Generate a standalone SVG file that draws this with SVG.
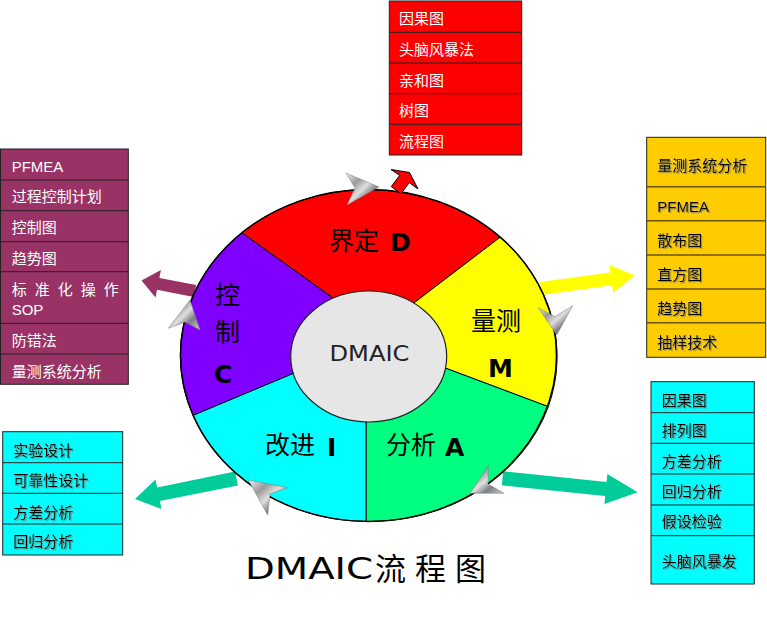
<svg xmlns="http://www.w3.org/2000/svg" width="767" height="621" viewBox="0 0 767 621">
<style>
.t{font-family:"Liberation Sans","Noto Sans CJK SC",sans-serif;font-size:15px}
.w{fill:#fff}
.k{fill:#000}
.sh{filter:url(#ds)}
.seg{stroke:#000;stroke-width:1}
.box{stroke:#222;stroke-width:1}
.ln{stroke:#222;stroke-width:1}
.lny{stroke:#6b5200;stroke-width:1.5}
.cj{font-family:"Noto Sans CJK SC",sans-serif;font-size:25px;fill:#000}
.bd{font-family:"DejaVu Sans",sans-serif;font-weight:bold;font-size:25px;fill:#000}
.chev{fill:url(#silver);stroke:#777;stroke-width:0.5}
</style>
<defs>
<filter id="ds" x="-10%" y="-30%" width="130%" height="180%">
<feDropShadow dx="1.2" dy="1.2" stdDeviation="0.4" flood-color="#777" flood-opacity="0.8"/>
</filter>
<linearGradient id="silver" x1="0" y1="0" x2="1" y2="1">
<stop offset="0" stop-color="#f4f4f4"/>
<stop offset="0.3" stop-color="#9a9a9a"/>
<stop offset="0.5" stop-color="#e0e0e0"/>
<stop offset="0.7" stop-color="#7c7c86"/>
<stop offset="1" stop-color="#d0d0d0"/>
</linearGradient>
</defs>
<rect width="767" height="621" fill="#fff"/>

<g id="connectors">
<polygon points="196.2,285.1 159.4,277.9 160.9,270.1 141.5,280.5 155.5,297.5 157,289.7 193.8,296.9" fill="#993366"/>
<polygon points="541.9,294.9 540.1,282.1 610.3,272.4 609.3,264.9 635,275.5 613.1,292.7 612.1,285.2" fill="#ffff00"/>
<polygon points="235.1,471.6 157.1,487.4 155.5,479.5 135,499 161.5,509 159.9,501.1 237.9,485.4" fill="#00cc99"/>
<polygon points="503.2,471.3 606.6,482 607.4,474.1 637.7,492.3 604.4,503.9 605.2,496 501.8,485.3" fill="#00cc99"/>
</g>

<g id="cycle">
<g id="seg-D"><path class="seg" fill="#ff0000" d="M241.7,232.7 A188,166 0 0 1 500,237.3 L388,322.7 L353.3,312.5 Z"/></g>
<g id="seg-M"><path class="seg" fill="#ffff00" d="M500,237.3 A188,166 0 0 1 548.3,406.7 L420.4,358.7 L388,322.7 Z"/></g>
<g id="seg-A"><path class="seg" fill="#00ff80" d="M548.3,406.7 A188,166 0 0 1 366,521.5 L366,400 L420.4,358.7 Z"/></g>
<g id="seg-I"><path class="seg" fill="#00ffff" d="M366,521.5 A188,166 0 0 1 193,415.3 L318.4,362.8 L366,400 Z"/></g>
<g id="seg-C"><path class="seg" fill="#8000ff" d="M193,415.3 A188,166 0 0 1 241.7,232.7 L353.3,312.5 L318.4,362.8 Z"/></g>
<ellipse cx="368.5" cy="355.5" rx="188" ry="166" fill="none" stroke="#000" stroke-width="1.5"/>
<g id="center">
<ellipse cx="368.7" cy="356.5" rx="78" ry="65.5" fill="#e6e6e6" stroke="#222" stroke-width="1.2"/>
<text x="329.5" y="361" font-family="DejaVu Sans,sans-serif" font-size="22" fill="#222" textLength="80" lengthAdjust="spacingAndGlyphs">DMAIC</text>
</g>
<text class="cj" x="329" y="250">界定</text><text class="bd" x="390" y="251">D</text>
<text class="cj" x="471" y="330">量测</text><text class="bd" x="488" y="377">M</text>
<text class="cj" x="215" y="304" font-size="24">控</text><text class="cj" x="215" y="341" font-size="24">制</text><text class="bd" x="214" y="383">C</text>
<text class="cj" x="265" y="454">改进</text><text class="bd" x="327" y="456">I</text>
<text class="cj" x="386" y="454">分析</text><text class="bd" x="445" y="456">A</text>
</g>

<g id="flow-arrows">
<polygon points="409.5,172.5 418,189 409.3,182.6 400.9,193.8 391.3,186.6 399.7,175.4 391,169.5" fill="#ff0000" stroke="#000" stroke-width="1"/>
<polygon class="chev" points="346,173 379,187 347,205 355,188"/>
<polygon class="chev" points="538.3,307.7 556.7,335 572.7,305.7 555,316.7"/>
<polygon class="chev" points="488.3,465.7 470,493.3 504,493.3 488,484"/>
<polygon class="chev" points="287.7,487.7 248.3,480 267.7,515 270,494"/>
<polygon class="chev" points="168.3,328.3 190,300 200,330 185,322"/>
</g>

<g id="box-D">
<rect class="box" x="389.3" y="1" width="132.4" height="154" fill="#ff0000"/>
<path class="ln" d="M389.3,32.3H521.7M389.3,63H521.7M389.3,93.7H521.7M389.3,124.3H521.7"/>
<text class="t w" x="399" y="23.5">因果图</text>
<text class="t w" x="399" y="55">头脑风暴法</text>
<text class="t w" x="399" y="85.5">亲和图</text>
<text class="t w" x="399" y="115.5">树图</text>
<text class="t w" x="399" y="147">流程图</text>
</g>

<g id="box-C">
<rect class="box" x="0.5" y="149" width="127.8" height="235.3" fill="#993366"/>
<path class="ln" d="M0.5,180H128.3M0.5,210.7H128.3M0.5,241.7H128.3M0.5,271.7H128.3M0.5,323.3H128.3M0.5,354H128.3"/>
<text class="t w" x="11.7" y="172">PFMEA</text>
<text class="t w" x="11.7" y="202">过程控制计划</text>
<text class="t w" x="11.7" y="233">控制图</text>
<text class="t w" x="11.7" y="263.8">趋势图</text>
<text class="t w" x="11.7" y="294.8" letter-spacing="8">标准化操作</text>
<text class="t w" x="11.7" y="314.5">SOP</text>
<text class="t w" x="11.7" y="345.5">防错法</text>
<text class="t w" x="11.7" y="377">量测系统分析</text>
</g>

<g id="box-M">
<rect class="box" x="646.7" y="137.3" width="119" height="220" fill="#ffcc00"/>
<path class="lny" d="M646.7,186.7H765.7M646.7,220.7H765.7M646.7,255H765.7M646.7,289H765.7M646.7,322.7H765.7"/>
<g class="sh">
<text class="t k" x="657.3" y="170.5">量测系统分析</text>
<text class="t k" x="657.3" y="211.5">PFMEA</text>
<text class="t k" x="657.3" y="245.5">散布图</text>
<text class="t k" x="657.3" y="279.5">直方图</text>
<text class="t k" x="657.3" y="313.8">趋势图</text>
<text class="t k" x="657.3" y="347.8">抽样技术</text>
</g>
</g>

<g id="box-I">
<rect class="box" x="2.7" y="431.7" width="120" height="123.3" fill="#00ffff"/>
<path class="ln" d="M2.7,462.7H122.7M2.7,493.3H122.7M2.7,524H122.7"/>
<g class="sh">
<text class="t k" x="13.3" y="455.5">实验设计</text>
<text class="t k" x="13.3" y="485.5">可靠性设计</text>
<text class="t k" x="13.3" y="517.5">方差分析</text>
<text class="t k" x="13.3" y="547">回归分析</text>
</g>
</g>

<g id="box-A">
<rect class="box" x="651" y="381.7" width="103.3" height="202.3" fill="#00ffff"/>
<path class="ln" d="M651,412.7H754.3M651,443.3H754.3M651,474H754.3M651,505H754.3M651,535.7H754.3"/>
<g class="sh">
<text class="t k" x="661.7" y="405.5">因果图</text>
<text class="t k" x="661.7" y="435.5">排列图</text>
<text class="t k" x="661.7" y="467">方差分析</text>
<text class="t k" x="661.7" y="497">回归分析</text>
<text class="t k" x="661.7" y="527">假设检验</text>
<text class="t k" x="661.7" y="567">头脑风暴发</text>
</g>
</g>

<g id="title">
<text x="245" y="578.5" font-family="DejaVu Sans,sans-serif" font-size="31" fill="#000" textLength="128" lengthAdjust="spacingAndGlyphs">DMAIC</text>
<text x="375" y="580" font-family="Noto Sans CJK SC,sans-serif" font-size="31" letter-spacing="9" fill="#000">流程图</text>
</g>
</svg>
